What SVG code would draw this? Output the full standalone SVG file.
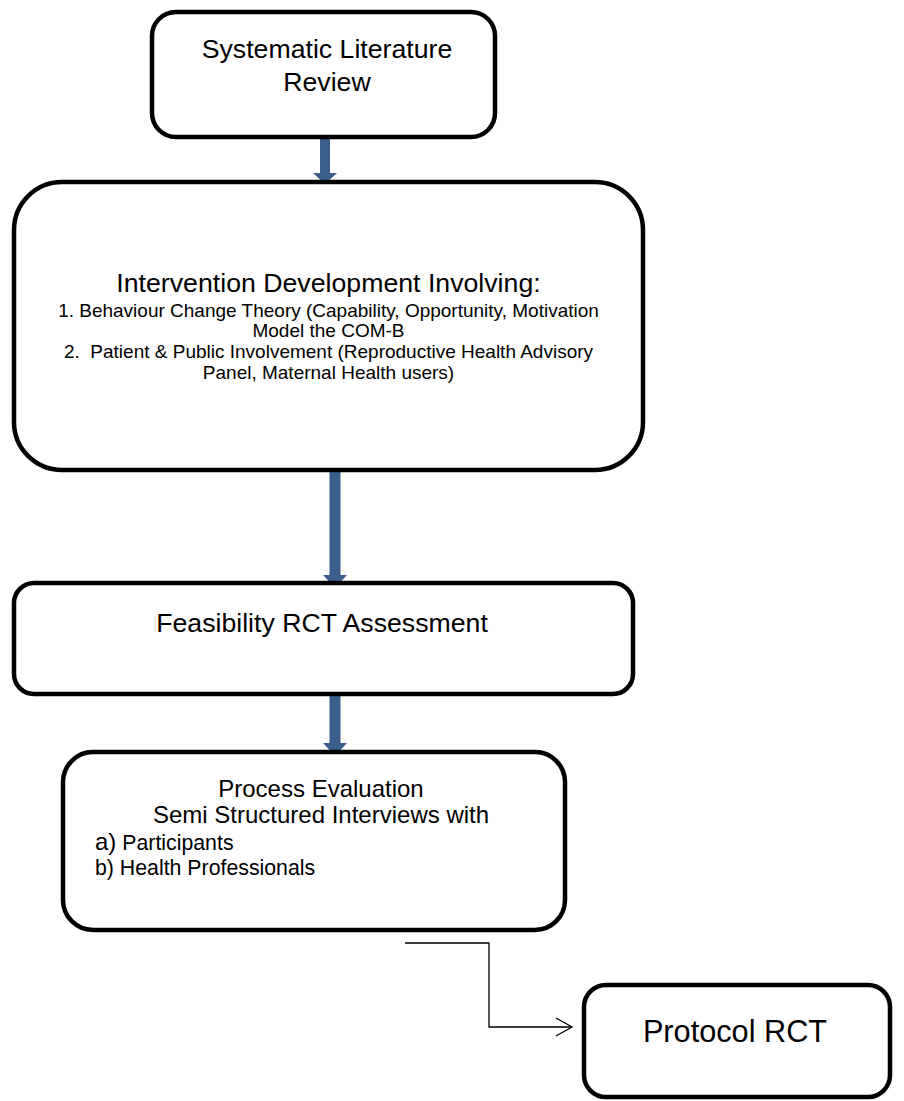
<svg xmlns="http://www.w3.org/2000/svg" width="904" height="1101" viewBox="0 0 904 1101">
  <style>
    .box { fill: #ffffff; stroke: #000000; stroke-width: 4.5; }
    .t { font-family: "Liberation Sans", Arial, sans-serif; fill: #000000; }
    .c { text-anchor: middle; }
    .big { font-size: 26.7px; }
    .mid { font-size: 24px; }
    .sm { font-size: 19px; }
    .lst { font-size: 21.3px; }
    .flow { fill: #3A5F8D; }
    .thin { fill: none; stroke: #000000; stroke-width: 1.3; }
  </style>
  <defs>
    <marker id="open" viewBox="0 0 20 20" refX="18" refY="10" markerWidth="20" markerHeight="20" markerUnits="userSpaceOnUse" orient="auto">
      <path d="M2,1 L18,10 L2,19" fill="none" stroke="#000000" stroke-width="1.3"/>
    </marker>
  </defs>

  <g id="connectors">
    <!-- block arrows between the stacked stages -->
    <polygon class="flow" points="320,137 330,137 330,173 337,173 325,184 313,173 320,173"/>
    <polygon class="flow" points="329.5,470 340.5,470 340.5,575 347,575 335,588 323,575 329.5,575"/>
    <polygon class="flow" points="329.5,694 340.5,694 340.5,743 347,743 335,756 323,743 329.5,743"/>
    <!-- elbow link to the protocol stage -->
    <path class="thin" d="M405,943 H489 V1027 H572" marker-end="url(#open)"/>
  </g>

  <g id="review">
    <rect class="box" x="152" y="12" width="343" height="125" rx="24" ry="24"/>
    <text class="t c big" x="327" y="58">Systematic Literature</text>
    <text class="t c big" x="327" y="91">Review</text>
  </g>

  <g id="development">
    <rect class="box" x="14" y="182" width="629" height="288" rx="48" ry="48"/>
    <text class="t c big" x="328.5" y="292">Intervention Development Involving:</text>
    <text class="t c sm" x="328.5" y="317">1. Behaviour Change Theory (Capability, Opportunity, Motivation</text>
    <text class="t c sm" x="328.5" y="337">Model the COM-B</text>
    <text class="t c sm" x="328.5" y="358" xml:space="preserve">2.  Patient &amp; Public Involvement (Reproductive Health Advisory</text>
    <text class="t c sm" x="328.5" y="379">Panel, Maternal Health users)</text>
  </g>

  <g id="feasibility">
    <rect class="box" x="14" y="583" width="619" height="111" rx="20" ry="20"/>
    <text class="t c big" x="322" y="632">Feasibility RCT Assessment</text>
  </g>

  <g id="process">
    <rect class="box" x="63" y="752" width="502" height="178" rx="30" ry="30"/>
    <text class="t c mid" x="321" y="797">Process Evaluation</text>
    <text class="t c mid" x="321" y="823">Semi Structured Interviews with</text>
    <text class="t lst" x="95" y="850"><tspan style="font-size:24px">a)</tspan> Participants</text>
    <text class="t lst" x="95" y="875">b) Health Professionals</text>
  </g>

  <g id="protocol">
    <rect class="box" x="584" y="985" width="306" height="112" rx="22" ry="22"/>
    <text class="t c" style="font-size:30.7px" x="735" y="1042">Protocol RCT</text>
  </g>
</svg>
